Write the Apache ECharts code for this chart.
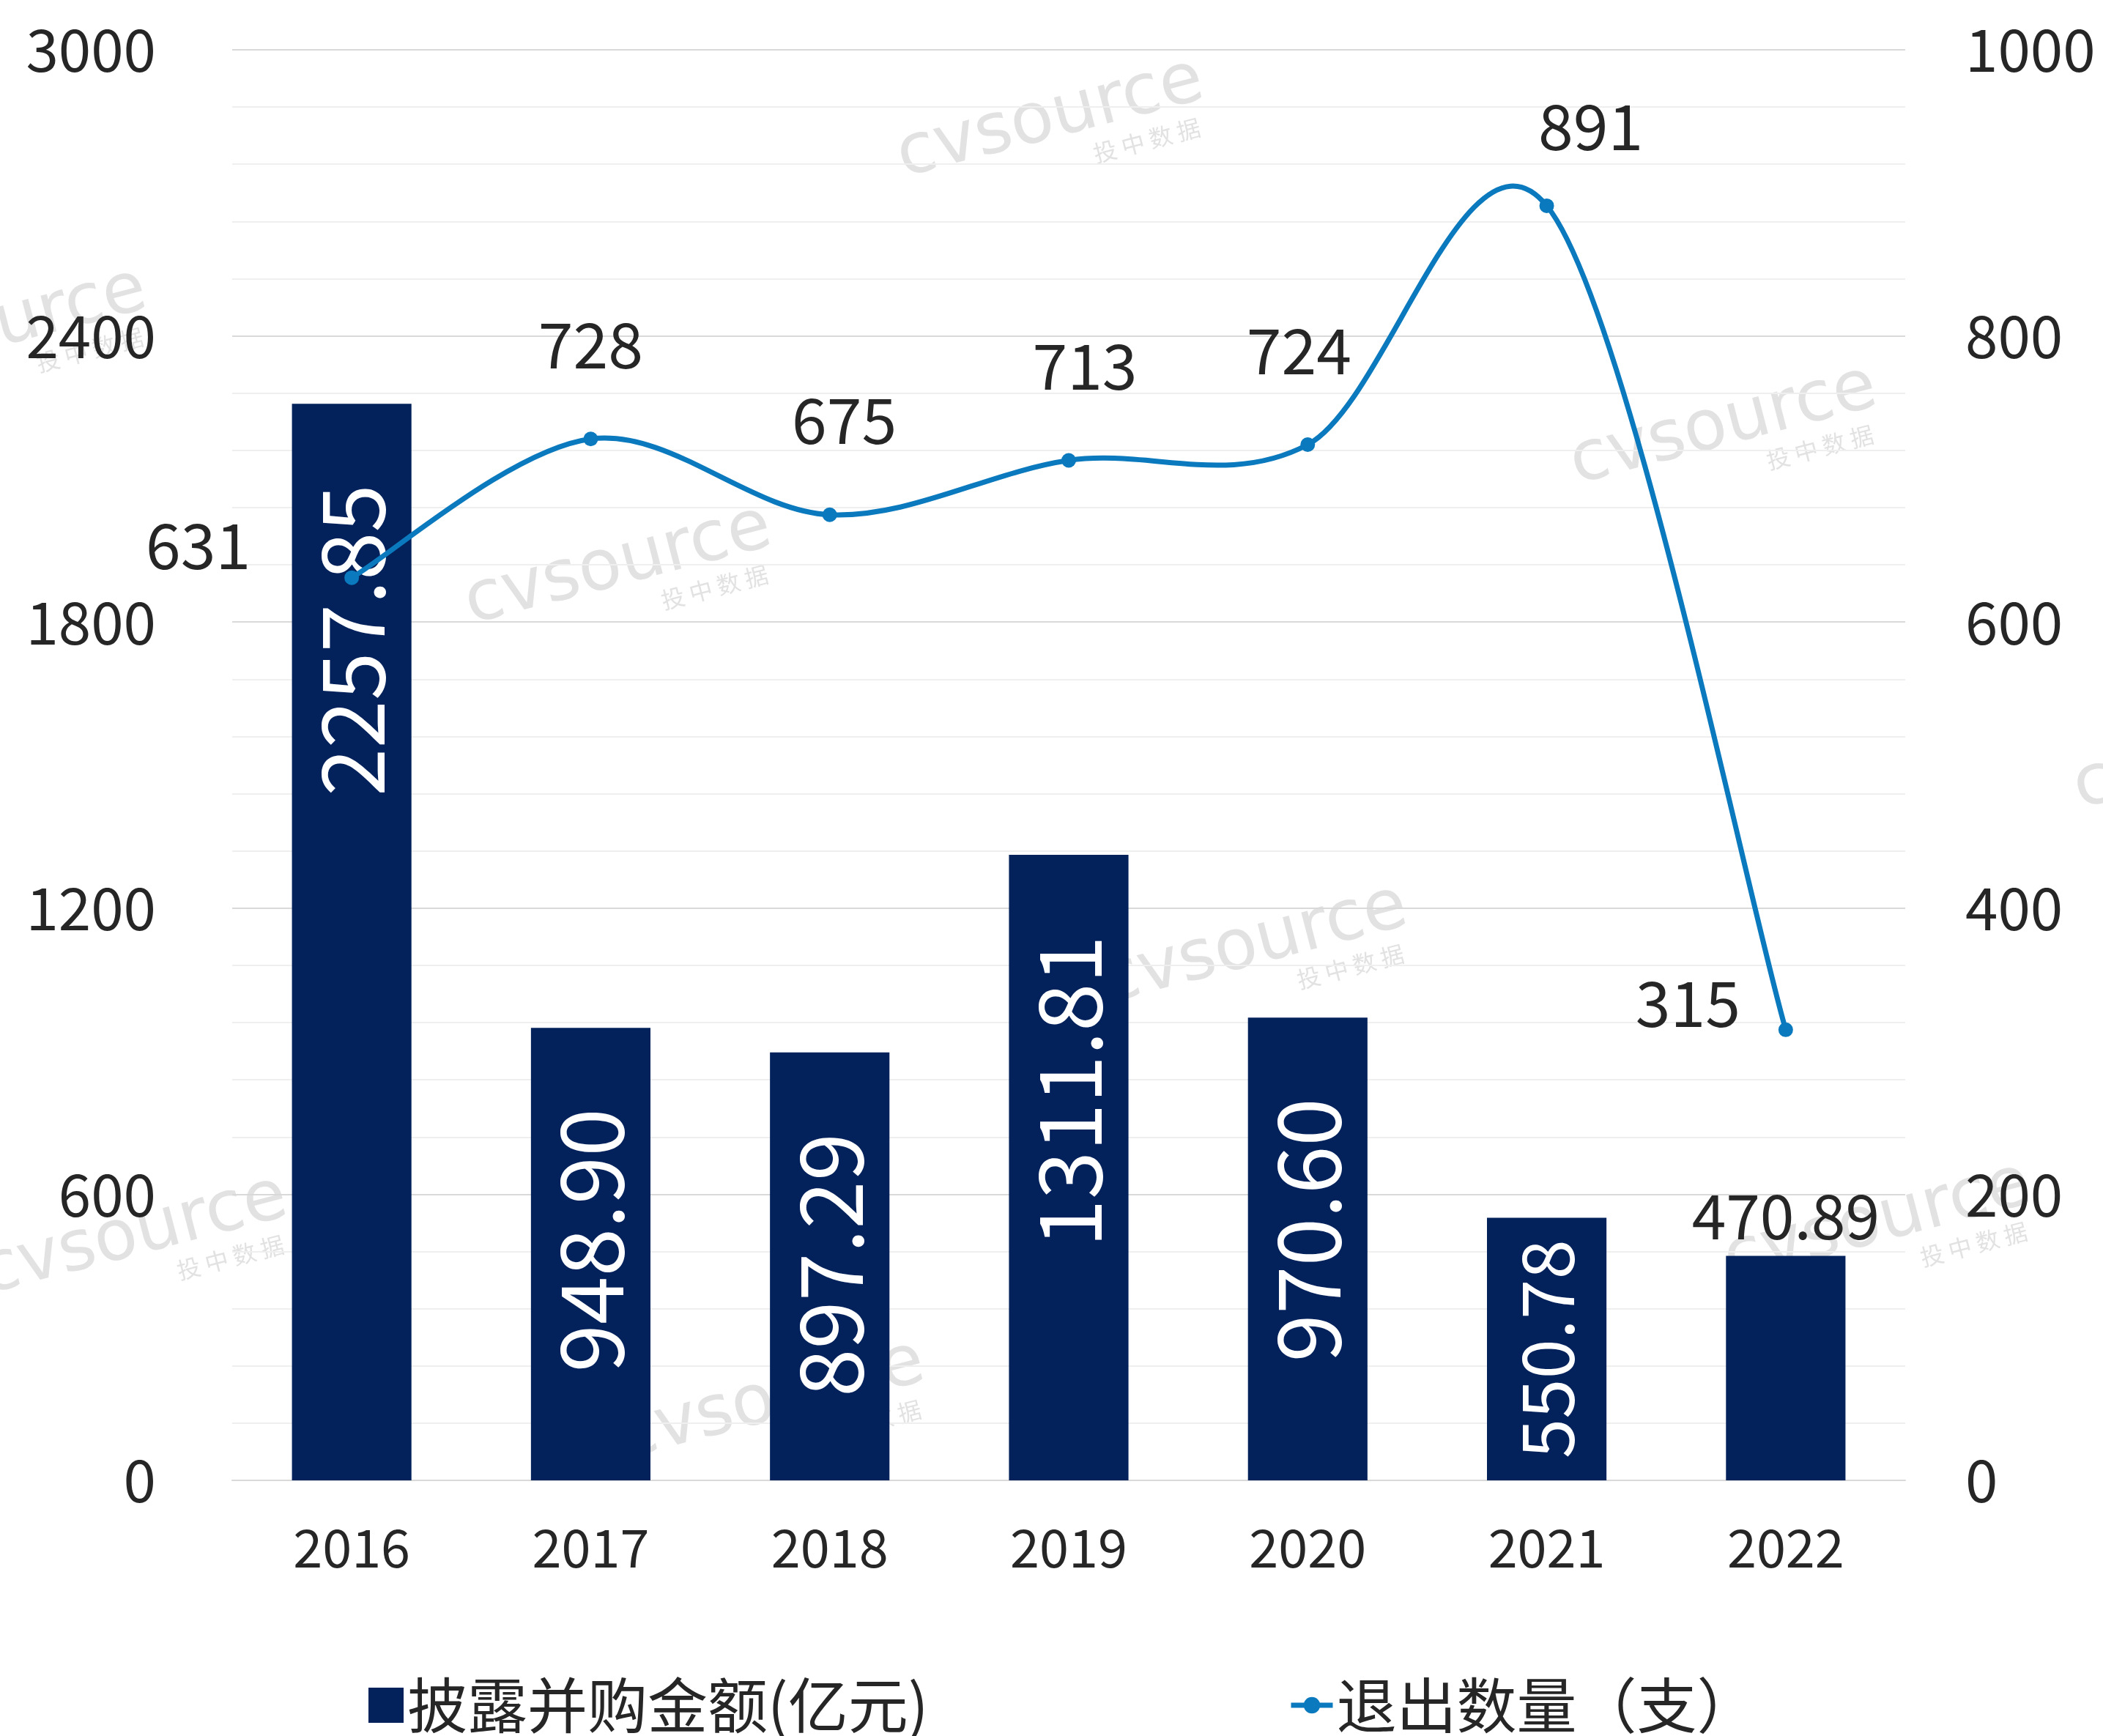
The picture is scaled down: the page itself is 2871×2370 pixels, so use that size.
<!DOCTYPE html>
<html>
<head>
<meta charset="utf-8">
<script src="https://cdn.jsdelivr.net/npm/echarts@6/dist/echarts.min.js"></script>
<style>
  html, body { margin: 0; padding: 0; background: #fff; }
  #chart { width: 2871px; height: 2370px; }
</style>
</head>
<body>
<div id="chart"></div>
<script>
// 数据
const years = ['2016', '2017', '2018', '2019', '2020', '2021', '2022']
const amounts = [2257.85, 948.90, 897.29, 1311.81, 970.60, 550.78, 470.89]
const exits = [631, 728, 675, 713, 724, 891, 315]
const amountName = '披露并购金额(亿元)'
const exitName = '退出数量（支）'

const textColor = '#262626'
const lineColor = '#0a79bd'
const font = '"Noto Sans CJK SC", "Open Sans", sans-serif'

// 水印
const wmSpots = [
  [1434, 163], [844, 773], [2353, 582], [1712, 1291], [183, 1688],
  [1053, 1913], [2563, 1670], [-9, 449], [3040, 1025]
]
const watermarks = wmSpots.map(([x, y]) => ({
  type: 'group',
  x, y,
  rotation: 0.255,
  z: 0,
  children: [
    { type: 'text', style: { text: 'cvsource', font: '96px "DejaVu Sans"', fill: '#e2e2e2', align: 'center', verticalAlign: 'middle' } },
    { type: 'text', x: 120, y: 61, style: { text: '投 中 数 据', font: '32px "Noto Sans CJK SC"', fill: '#e2e2e2', align: 'center', verticalAlign: 'middle' } }
  ]
}))

// 柱子标签：矮柱改为居中或放到上方
const barData = amounts.map(v => {
  if (v < 500) {
    return { value: v, label: { position: 'top', rotate: 0, distance: 12, color: textColor, fontSize: 84, align: 'center', verticalAlign: 'bottom' } }
  }
  if (v < 600) {
    return { value: v, label: { position: 'inside', fontSize: 98, align: 'center', verticalAlign: 'middle' } }
  }
  return v
})

// 折线标签：首尾放左边，其余微调
const lineLabelDx = [0, 0, 20, 22, -12, 60, 0]
const lineData = exits.map((v, i) => {
  if (i === 0) return { value: v, label: { position: 'left', distance: 128, offset: [0, -44] } }
  if (i === exits.length - 1) return { value: v, label: { position: 'left', distance: 52, offset: [0, -36] } }
  if (v === Math.max(...exits)) return { value: v, label: { offset: [lineLabelDx[i], 0], distance: 56 } }
  return { value: v, label: { offset: [lineLabelDx[i], 0] } }
})

// Excel 风格平滑曲线（Catmull-Rom, 1/6）
const renderSmoothLine = (params, api) => {
  const pts = exits.map((v, i) => api.coord([i, v]))
  const n = pts.length
  const children = []
  for (let i = 0; i < n - 1; i++) {
    const p0 = pts[Math.max(i - 1, 0)]
    const p1 = pts[i]
    const p2 = pts[i + 1]
    const p3 = pts[Math.min(i + 2, n - 1)]
    children.push({
      type: 'bezierCurve',
      shape: {
        x1: p1[0], y1: p1[1],
        cpx1: p1[0] + (p2[0] - p0[0]) / 6, cpy1: p1[1] + (p2[1] - p0[1]) / 6,
        cpx2: p2[0] - (p3[0] - p1[0]) / 6, cpy2: p2[1] - (p3[1] - p1[1]) / 6,
        x2: p2[0], y2: p2[1]
      },
      style: { stroke: lineColor, lineWidth: 7, fill: null, lineCap: 'round' }
    })
  }
  return { type: 'group', children }
}

const chart = echarts.init(document.getElementById('chart'))
chart.setOption({
  backgroundColor: '#fff',
  textStyle: { fontFamily: font },
  animation: false,
  graphic: watermarks,
  grid: { left: 317, right: 270, top: 68, bottom: 349, outerBoundsMode: 'none' },
  legend: [
    {
      data: [{ name: amountName, icon: 'rect' }],
      left: 498, top: 2282,
      itemWidth: 48, itemHeight: 48,
      textStyle: { fontSize: 82, color: textColor, fontFamily: font }
    },
    {
      data: [{ name: exitName, lineStyle: { color: lineColor, width: 7, opacity: 1 } }],
      left: 1754, top: 2282,
      itemWidth: 57, itemHeight: 28,
      textStyle: { fontSize: 82, color: textColor, fontFamily: font }
    }
  ],
  xAxis: {
    type: 'category',
    data: years,
    axisTick: { show: false },
    axisLine: { lineStyle: { color: '#d9d9d9', width: 2 } },
    axisLabel: { fontSize: 72, color: textColor, margin: 56 }
  },
  yAxis: [
    {
      type: 'value',
      min: 0, max: 3000, interval: 600,
      axisLine: { show: false },
      axisTick: { show: false },
      axisLabel: { fontSize: 80, color: textColor, margin: 104, formatter: v => String(v) },
      splitLine: { lineStyle: { color: '#d9d9d9', width: 2 } },
      minorTick: { show: false, splitNumber: 5 },
      minorSplitLine: { show: true, lineStyle: { color: '#efefef', width: 2 } }
    },
    {
      type: 'value',
      min: 0, max: 1000, interval: 200,
      axisLine: { show: false },
      axisTick: { show: false },
      splitLine: { show: false },
      axisLabel: { fontSize: 80, color: textColor, margin: 82, formatter: v => String(v) }
    }
  ],
  series: [
    {
      name: amountName,
      type: 'bar',
      barWidth: '50%',
      itemStyle: { color: '#03225c' },
      label: {
        show: true,
        position: 'insideTop',
        rotate: 90,
        align: 'right',
        verticalAlign: 'middle',
        distance: 110,
        color: '#fff',
        fontSize: 118,
        formatter: p => p.value.toFixed(2)
      },
      data: barData,
      z: 2
    },
    {
      type: 'custom',
      yAxisIndex: 1,
      renderItem: renderSmoothLine,
      data: [[0, exits[0]]],
      silent: true,
      z: 3
    },
    {
      name: exitName,
      type: 'line',
      yAxisIndex: 1,
      symbol: 'circle',
      symbolSize: 20,
      lineStyle: { color: lineColor, width: 7, opacity: 0 },
      itemStyle: { color: lineColor },
      label: {
        show: true,
        position: 'top',
        distance: 76,
        fontSize: 86,
        color: textColor
      },
      data: lineData,
      z: 4
    }
  ]
})
</script>
</body>
</html>
